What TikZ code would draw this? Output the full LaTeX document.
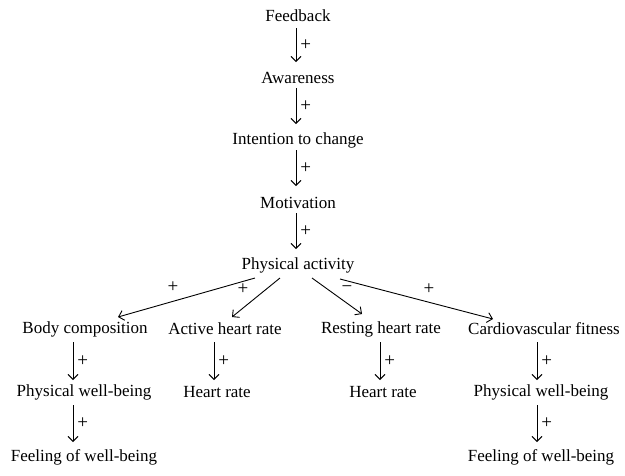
\documentclass[tikz,border=0pt]{standalone}
\usepackage{fontspec}
\setmainfont{Liberation Serif}
\usetikzlibrary{arrows.meta}
\begin{document}
\begin{tikzpicture}[x=1pt,y=-1pt,
  lbl/.style={inner sep=0pt, font=\fontsize{17}{20}\selectfont},
  arr/.style={draw, line width=0.9pt, -{Straight Barb[length=5pt,width=10pt]}},
  sgn/.style={font=\fontsize{19}{21}\selectfont, inner sep=0pt}]
\useasboundingbox (0,0) rectangle (625,475);
% main chain
\node[lbl] (fb) at (298,16) {Feedback};
\node[lbl] (aw) at (298,78) {Awareness};
\node[lbl] (it) at (298,140) {Intention to change};
\node[lbl] (mo) at (298,203) {Motivation};
\node[lbl] (pa) at (298,265) {Physical activity};
% second row
\node[lbl] (bc) at (85,329) {Body composition};
\node[lbl] (ah) at (225,329) {Active heart rate};
\node[lbl] (rh) at (381,329) {Resting heart rate};
\node[lbl] (cf) at (544,329) {Cardiovascular fitness};
% third row
\node[lbl] (pw1) at (84,392) {Physical well-being};
\node[lbl] (hr1) at (217,392) {Heart rate};
\node[lbl] (hr2) at (383,392) {Heart rate};
\node[lbl] (pw2) at (541,392) {Physical well-being};
% fourth row
\node[lbl] (fw1) at (84,457) {Feeling of well-being};
\node[lbl] (fw2) at (541,457) {Feeling of well-being};
% vertical arrows
\path[arr] ([xshift=-2pt,yshift=-12pt]fb.center) -- node[sgn, right=4pt]{+} ([xshift=-2pt,yshift=16pt]aw.center);
\path[arr] ([xshift=-2pt,yshift=-10pt]aw.center) -- node[sgn, right=4pt]{+} ([xshift=-2pt,yshift=16pt]it.center);
\path[arr] ([xshift=-2pt,yshift=-10pt]it.center) -- node[sgn, right=4pt]{+} ([xshift=-2pt,yshift=17pt]mo.center);
\path[arr] ([xshift=-2pt,yshift=-10pt]mo.center) -- node[sgn, right=4pt]{+} ([xshift=-2pt,yshift=16pt]pa.center);
% diagonal arrows
\path[arr] ([xshift=-43pt,yshift=-13pt]pa.center) -- ([xshift=33pt,yshift=12pt]bc.center);
\path[arr] ([xshift=-18pt,yshift=-13pt]pa.center) -- ([xshift=7pt,yshift=12pt]ah.center);
\path[arr] ([xshift=14pt,yshift=-13pt]pa.center) -- ([xshift=-19pt,yshift=15pt]rh.center);
\path[arr] ([xshift=42pt,yshift=-14pt]pa.center) -- ([xshift=-51pt,yshift=10pt]cf.center);
\node[sgn] (s1) at (173,287) {+};
\node[sgn] (s2) at (243,289) {+};
\node[sgn] (s3) at (347,289) {\textminus};
\node[sgn] (s4) at (429,289) {+};
% lower vertical arrows
\path[arr] ([xshift=-12pt,yshift=-13pt]bc.center) -- node[sgn, right=4pt]{+} ([xshift=-11pt,yshift=12pt]pw1.center);
\path[arr] ([xshift=-11pt,yshift=-13pt]pw1.center) -- node[sgn, right=4pt]{+} ([xshift=-11pt,yshift=15pt]fw1.center);
\path[arr] ([xshift=-11pt,yshift=-13pt]ah.center) -- node[sgn, right=4pt]{+} ([xshift=-3pt,yshift=12pt]hr1.center);
\path[arr] ([xshift=-1pt,yshift=-13pt]rh.center) -- node[sgn, right=4pt]{+} ([xshift=-3pt,yshift=12pt]hr2.center);
\path[arr] ([xshift=-7pt,yshift=-13pt]cf.center) -- node[sgn, right=4pt]{+} ([xshift=-4pt,yshift=12pt]pw2.center);
\path[arr] ([xshift=-4pt,yshift=-13pt]pw2.center) -- node[sgn, right=4pt]{+} ([xshift=-4pt,yshift=15pt]fw2.center);
\end{tikzpicture}
\end{document}
